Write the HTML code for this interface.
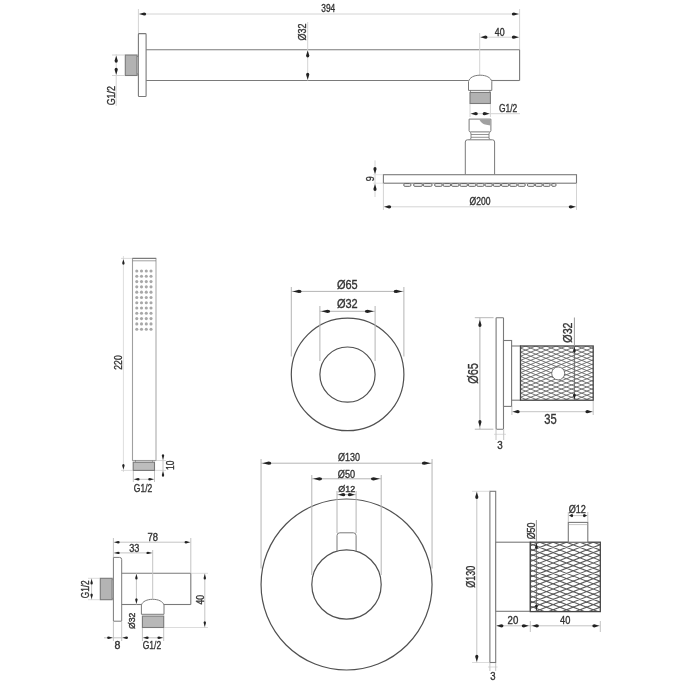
<!DOCTYPE html>
<html><head><meta charset="utf-8"><style>
html,body{margin:0;padding:0;background:#fff;}
svg{display:block;font-family:"Liberation Sans",sans-serif;will-change:transform;filter:blur(0.35px);}
text{stroke:#333;stroke-width:0.35px;}
</style></head><body>
<svg width="685" height="685" viewBox="0 0 685 685">

<rect width="685" height="685" fill="#fff"/>
<line x1="138.40" y1="14.00" x2="519.60" y2="14.00" stroke="#d4d4d4" stroke-width="1.0"/>
<path d="M139.20,14.00 L144.10,12.40 Q146.20,12.40 146.20,14.00 Q146.20,15.60 144.10,15.60 Z" fill="#222"/>
<path d="M518.80,14.00 L513.90,15.60 Q511.80,15.60 511.80,14.00 Q511.80,12.40 513.90,12.40 Z" fill="#222"/>
<line x1="138.40" y1="9.00" x2="138.40" y2="33.60" stroke="#d4d4d4" stroke-width="1.0"/>
<line x1="519.60" y1="9.00" x2="519.60" y2="49.60" stroke="#d4d4d4" stroke-width="1.0"/>
<text class="t0" x="321.29" y="11.67" font-size="11.21" textLength="13.96" lengthAdjust="spacingAndGlyphs" fill="#333">394</text>
<rect x="138.40" y="33.60" width="7.70" height="62.90" rx="0.8" fill="#fff" stroke="#7a7a7a" stroke-width="1.1"/>
<line x1="146.10" y1="49.70" x2="519.60" y2="49.70" stroke="#7a7a7a" stroke-width="1.1"/>
<line x1="146.10" y1="80.50" x2="468.50" y2="80.50" stroke="#7a7a7a" stroke-width="1.1"/>
<line x1="491.80" y1="80.50" x2="519.60" y2="80.50" stroke="#7a7a7a" stroke-width="1.1"/>
<line x1="519.60" y1="49.70" x2="519.60" y2="80.50" stroke="#7a7a7a" stroke-width="1.1"/>
<rect x="125.30" y="55.00" width="11.80" height="20.50" rx="0" fill="#b2b2b2" stroke="#7a7a7a" stroke-width="1.1"/>
<rect x="137.10" y="56.50" width="1.30" height="17.50" rx="0" fill="#d0d0d0" stroke="#7a7a7a" stroke-width="0.6"/>
<line x1="112.00" y1="55.00" x2="125.00" y2="55.00" stroke="#d4d4d4" stroke-width="1.0"/>
<line x1="112.00" y1="75.50" x2="125.00" y2="75.50" stroke="#d4d4d4" stroke-width="1.0"/>
<line x1="116.20" y1="54.30" x2="116.20" y2="106.00" stroke="#d4d4d4" stroke-width="1.0"/>
<path d="M116.20,55.80 L117.80,60.70 Q117.80,62.80 116.20,62.80 Q114.60,62.80 114.60,60.70 Z" fill="#222"/>
<path d="M116.20,74.70 L114.60,69.80 Q114.60,67.70 116.20,67.70 Q117.80,67.70 117.80,69.80 Z" fill="#222"/>
<text class="t1" transform="translate(114.67,105.33) rotate(-90)" x="0" y="0" font-size="11.12" textLength="19.24" lengthAdjust="spacingAndGlyphs" fill="#333">G1/2</text>
<line x1="307.70" y1="22.00" x2="307.70" y2="80.50" stroke="#d4d4d4" stroke-width="1.0"/>
<path d="M307.70,50.50 L309.30,55.40 Q309.30,57.50 307.70,57.50 Q306.10,57.50 306.10,55.40 Z" fill="#222"/>
<path d="M307.70,79.70 L306.10,74.80 Q306.10,72.70 307.70,72.70 Q309.30,72.70 309.30,74.80 Z" fill="#222"/>
<text class="t2" transform="translate(305.55,40.57) rotate(-90)" x="0" y="0" font-size="10.45" textLength="16.95" lengthAdjust="spacingAndGlyphs" fill="#333">Ø32</text>
<line x1="479.70" y1="37.20" x2="519.60" y2="37.20" stroke="#d4d4d4" stroke-width="1.0"/>
<path d="M480.50,37.20 L485.40,35.60 Q487.50,35.60 487.50,37.20 Q487.50,38.80 485.40,38.80 Z" fill="#222"/>
<path d="M518.80,37.20 L513.90,38.80 Q511.80,38.80 511.80,37.20 Q511.80,35.60 513.90,35.60 Z" fill="#222"/>
<line x1="479.70" y1="33.00" x2="479.70" y2="75.00" stroke="#d4d4d4" stroke-width="1.0"/>
<text class="t3" x="494.77" y="35.63" font-size="10.21" textLength="9.82" lengthAdjust="spacingAndGlyphs" fill="#333">40</text>
<path d="M468.5,90.4 L468.5,81.5 C469.5,77.5 474,75.2 480.1,75.2 C486.3,75.2 490.8,77.5 491.8,81.5 L491.8,90.4 Z" fill="#fff" stroke="#7a7a7a" stroke-width="1"/>
<rect x="470.50" y="90.40" width="19.40" height="2.00" rx="0" fill="#fff" stroke="#7a7a7a" stroke-width="0.8"/>
<rect x="470.00" y="92.40" width="20.40" height="11.10" rx="0" fill="#b2b2b2" stroke="#7a7a7a" stroke-width="1.1"/>
<line x1="470.00" y1="104.00" x2="470.00" y2="117.00" stroke="#d4d4d4" stroke-width="1.0"/>
<line x1="490.40" y1="104.00" x2="490.40" y2="117.00" stroke="#d4d4d4" stroke-width="1.0"/>
<line x1="470.00" y1="113.70" x2="520.00" y2="113.70" stroke="#d4d4d4" stroke-width="1.0"/>
<path d="M470.80,113.70 L475.70,112.10 Q477.80,112.10 477.80,113.70 Q477.80,115.30 475.70,115.30 Z" fill="#222"/>
<path d="M489.60,113.70 L484.70,115.30 Q482.60,115.30 482.60,113.70 Q482.60,112.10 484.70,112.10 Z" fill="#222"/>
<text class="t4" x="498.95" y="111.67" font-size="10.81" textLength="18.36" lengthAdjust="spacingAndGlyphs" fill="#333">G1/2</text>
<path d="M469.1,119.1 L490.9,119.1 L490.9,130.6 Q490.9,131.9 489.6,131.9 L470.4,131.9 Q469.1,131.9 469.1,130.6 Z" fill="#fff" stroke="#7a7a7a" stroke-width="1"/>
<path d="M479.2,119.6 Q482,124 485,124.6 L490.4,125.5 L490.4,119.6 Z" fill="#a0a0a0"/>
<path d="M469.8,131.9 Q471,132.6 471,134 L471,138 Q471,139.2 469.5,139.7 M490.3,131.9 Q489,132.6 489,134 L489,138 Q489,139.2 490.5,139.7" fill="none" stroke="#7a7a7a" stroke-width="0.9"/>
<line x1="471.00" y1="134.50" x2="489.00" y2="134.50" stroke="#7a7a7a" stroke-width="0.8"/>
<line x1="471.00" y1="137.30" x2="489.00" y2="137.30" stroke="#7a7a7a" stroke-width="0.8"/>
<path d="M465.3,174.7 L465.3,142 Q465.3,139.8 467.5,139.8 L492.5,139.8 Q494.6,139.8 494.6,142 L494.6,174.7" fill="#fff" stroke="#7a7a7a" stroke-width="1"/>
<rect x="383.40" y="174.70" width="193.10" height="8.50" rx="0" fill="#fff" stroke="#7a7a7a" stroke-width="1.1"/>
<rect x="403.70" y="183.5" width="7.30" height="2.9" rx="1.4" fill="#ececec" stroke="#505050" stroke-width="0.8"/>
<rect x="413.60" y="183.5" width="8.85" height="2.9" rx="1.4" fill="#ececec" stroke="#505050" stroke-width="0.8"/>
<rect x="423.25" y="183.5" width="8.85" height="2.9" rx="1.4" fill="#ececec" stroke="#505050" stroke-width="0.8"/>
<rect x="434.60" y="183.5" width="7.62" height="2.9" rx="1.4" fill="#ececec" stroke="#505050" stroke-width="0.8"/>
<rect x="443.02" y="183.5" width="7.62" height="2.9" rx="1.4" fill="#ececec" stroke="#505050" stroke-width="0.8"/>
<rect x="451.44" y="183.5" width="7.62" height="2.9" rx="1.4" fill="#ececec" stroke="#505050" stroke-width="0.8"/>
<rect x="459.86" y="183.5" width="7.62" height="2.9" rx="1.4" fill="#ececec" stroke="#505050" stroke-width="0.8"/>
<rect x="468.28" y="183.5" width="7.62" height="2.9" rx="1.4" fill="#ececec" stroke="#505050" stroke-width="0.8"/>
<rect x="476.70" y="183.5" width="7.43" height="2.9" rx="1.4" fill="#ececec" stroke="#505050" stroke-width="0.8"/>
<rect x="484.93" y="183.5" width="7.43" height="2.9" rx="1.4" fill="#ececec" stroke="#505050" stroke-width="0.8"/>
<rect x="493.17" y="183.5" width="7.43" height="2.9" rx="1.4" fill="#ececec" stroke="#505050" stroke-width="0.8"/>
<rect x="501.40" y="183.5" width="7.43" height="2.9" rx="1.4" fill="#ececec" stroke="#505050" stroke-width="0.8"/>
<rect x="509.63" y="183.5" width="7.43" height="2.9" rx="1.4" fill="#ececec" stroke="#505050" stroke-width="0.8"/>
<rect x="517.87" y="183.5" width="7.43" height="2.9" rx="1.4" fill="#ececec" stroke="#505050" stroke-width="0.8"/>
<rect x="527.40" y="183.5" width="7.07" height="2.9" rx="1.4" fill="#ececec" stroke="#505050" stroke-width="0.8"/>
<rect x="535.27" y="183.5" width="7.07" height="2.9" rx="1.4" fill="#ececec" stroke="#505050" stroke-width="0.8"/>
<rect x="543.13" y="183.5" width="7.07" height="2.9" rx="1.4" fill="#ececec" stroke="#505050" stroke-width="0.8"/>
<rect x="551.60" y="183.5" width="4.50" height="2.9" rx="1.4" fill="#ececec" stroke="#505050" stroke-width="0.8"/>
<line x1="375.00" y1="160.40" x2="375.00" y2="197.00" stroke="#d4d4d4" stroke-width="1.0"/>
<path d="M375.00,173.90 L373.40,169.00 Q373.40,166.90 375.00,166.90 Q376.60,166.90 376.60,169.00 Z" fill="#222"/>
<path d="M375.00,184.00 L376.60,188.90 Q376.60,191.00 375.00,191.00 Q373.40,191.00 373.40,188.90 Z" fill="#222"/>
<line x1="373.00" y1="174.70" x2="383.00" y2="174.70" stroke="#d4d4d4" stroke-width="0.6"/>
<line x1="373.00" y1="183.20" x2="383.00" y2="183.20" stroke="#d4d4d4" stroke-width="0.6"/>
<text class="t5" transform="translate(373.52,181.20) rotate(-90)" x="0" y="0" font-size="10.91" textLength="4.98" lengthAdjust="spacingAndGlyphs" fill="#333">9</text>
<line x1="383.40" y1="183.50" x2="383.40" y2="210.00" stroke="#d4d4d4" stroke-width="1.0"/>
<line x1="576.50" y1="183.50" x2="576.50" y2="210.00" stroke="#d4d4d4" stroke-width="1.0"/>
<line x1="383.40" y1="206.80" x2="576.50" y2="206.80" stroke="#d4d4d4" stroke-width="1.0"/>
<path d="M384.20,206.80 L389.10,205.20 Q391.20,205.20 391.20,206.80 Q391.20,208.40 389.10,208.40 Z" fill="#222"/>
<path d="M575.70,206.80 L570.80,208.40 Q568.70,208.40 568.70,206.80 Q568.70,205.20 570.80,205.20 Z" fill="#222"/>
<text class="t6" x="469.49" y="204.67" font-size="10.03" textLength="20.94" lengthAdjust="spacingAndGlyphs" fill="#333">Ø200</text>
<rect x="132.50" y="258.40" width="23.50" height="202.10" rx="0" fill="#fff" stroke="#a0a0a0" stroke-width="1.1"/>
<line x1="156.00" y1="259.00" x2="156.00" y2="460.00" stroke="#d6d6d6" stroke-width="1.2"/>
<line x1="132.50" y1="258.40" x2="156.00" y2="258.40" stroke="#7a7a7a" stroke-width="1.1"/>
<line x1="132.50" y1="260.80" x2="156.00" y2="260.80" stroke="#7a7a7a" stroke-width="0.7"/>
<circle cx="136.80" cy="271.00" r="1.55" fill="#a8a8a8"/>
<circle cx="141.50" cy="271.00" r="1.55" fill="#a8a8a8"/>
<circle cx="146.30" cy="271.00" r="1.55" fill="#a8a8a8"/>
<circle cx="151.00" cy="271.00" r="1.55" fill="#a8a8a8"/>
<circle cx="136.80" cy="276.29" r="1.55" fill="#a8a8a8"/>
<circle cx="141.50" cy="276.29" r="1.55" fill="#a8a8a8"/>
<circle cx="146.30" cy="276.29" r="1.55" fill="#a8a8a8"/>
<circle cx="151.00" cy="276.29" r="1.55" fill="#a8a8a8"/>
<circle cx="136.80" cy="281.58" r="1.55" fill="#a8a8a8"/>
<circle cx="141.50" cy="281.58" r="1.55" fill="#a8a8a8"/>
<circle cx="146.30" cy="281.58" r="1.55" fill="#a8a8a8"/>
<circle cx="151.00" cy="281.58" r="1.55" fill="#a8a8a8"/>
<circle cx="136.80" cy="286.87" r="1.55" fill="#a8a8a8"/>
<circle cx="141.50" cy="286.87" r="1.55" fill="#a8a8a8"/>
<circle cx="146.30" cy="286.87" r="1.55" fill="#a8a8a8"/>
<circle cx="151.00" cy="286.87" r="1.55" fill="#a8a8a8"/>
<circle cx="136.80" cy="292.16" r="1.55" fill="#a8a8a8"/>
<circle cx="141.50" cy="292.16" r="1.55" fill="#a8a8a8"/>
<circle cx="146.30" cy="292.16" r="1.55" fill="#a8a8a8"/>
<circle cx="151.00" cy="292.16" r="1.55" fill="#a8a8a8"/>
<circle cx="136.80" cy="297.45" r="1.55" fill="#a8a8a8"/>
<circle cx="141.50" cy="297.45" r="1.55" fill="#a8a8a8"/>
<circle cx="146.30" cy="297.45" r="1.55" fill="#a8a8a8"/>
<circle cx="151.00" cy="297.45" r="1.55" fill="#a8a8a8"/>
<circle cx="136.80" cy="302.74" r="1.55" fill="#a8a8a8"/>
<circle cx="141.50" cy="302.74" r="1.55" fill="#a8a8a8"/>
<circle cx="146.30" cy="302.74" r="1.55" fill="#a8a8a8"/>
<circle cx="151.00" cy="302.74" r="1.55" fill="#a8a8a8"/>
<circle cx="136.80" cy="308.03" r="1.55" fill="#a8a8a8"/>
<circle cx="141.50" cy="308.03" r="1.55" fill="#a8a8a8"/>
<circle cx="146.30" cy="308.03" r="1.55" fill="#a8a8a8"/>
<circle cx="151.00" cy="308.03" r="1.55" fill="#a8a8a8"/>
<circle cx="136.80" cy="313.32" r="1.55" fill="#a8a8a8"/>
<circle cx="141.50" cy="313.32" r="1.55" fill="#a8a8a8"/>
<circle cx="146.30" cy="313.32" r="1.55" fill="#a8a8a8"/>
<circle cx="151.00" cy="313.32" r="1.55" fill="#a8a8a8"/>
<circle cx="136.80" cy="318.61" r="1.55" fill="#a8a8a8"/>
<circle cx="141.50" cy="318.61" r="1.55" fill="#a8a8a8"/>
<circle cx="146.30" cy="318.61" r="1.55" fill="#a8a8a8"/>
<circle cx="151.00" cy="318.61" r="1.55" fill="#a8a8a8"/>
<circle cx="136.80" cy="323.90" r="1.55" fill="#a8a8a8"/>
<circle cx="141.50" cy="323.90" r="1.55" fill="#a8a8a8"/>
<circle cx="146.30" cy="323.90" r="1.55" fill="#a8a8a8"/>
<circle cx="151.00" cy="323.90" r="1.55" fill="#a8a8a8"/>
<circle cx="136.80" cy="329.19" r="1.55" fill="#a8a8a8"/>
<circle cx="141.50" cy="329.19" r="1.55" fill="#a8a8a8"/>
<circle cx="146.30" cy="329.19" r="1.55" fill="#a8a8a8"/>
<circle cx="151.00" cy="329.19" r="1.55" fill="#a8a8a8"/>
<rect x="135.60" y="460.50" width="17.00" height="1.70" rx="0" fill="#fff" stroke="#7a7a7a" stroke-width="0.6"/>
<rect x="133.20" y="462.20" width="21.30" height="8.20" rx="0" fill="#bdbdbd" stroke="#777" stroke-width="1.1"/>
<line x1="123.40" y1="256.00" x2="123.40" y2="472.00" stroke="#dedede" stroke-width="1.0"/>
<path d="M123.40,259.20 L124.60,263.05 Q124.60,264.70 123.40,264.70 Q122.20,264.70 122.20,263.05 Z" fill="#222"/>
<path d="M123.40,469.60 L122.20,465.75 Q122.20,464.10 123.40,464.10 Q124.60,464.10 124.60,465.75 Z" fill="#222"/>
<line x1="121.00" y1="258.40" x2="132.00" y2="258.40" stroke="#c4c4c4" stroke-width="0.6"/>
<line x1="121.00" y1="470.40" x2="133.00" y2="470.40" stroke="#c4c4c4" stroke-width="0.6"/>
<text class="t7" transform="translate(121.71,369.70) rotate(-90)" x="0" y="0" font-size="11.52" textLength="14.42" lengthAdjust="spacingAndGlyphs" fill="#333">220</text>
<line x1="163.00" y1="454.00" x2="163.00" y2="477.00" stroke="#c4c4c4" stroke-width="1.0"/>
<path d="M163.00,459.70 L161.80,455.85 Q161.80,454.20 163.00,454.20 Q164.20,454.20 164.20,455.85 Z" fill="#222"/>
<path d="M163.00,471.20 L164.20,475.05 Q164.20,476.70 163.00,476.70 Q161.80,476.70 161.80,475.05 Z" fill="#222"/>
<line x1="156.00" y1="460.50" x2="166.00" y2="460.50" stroke="#c4c4c4" stroke-width="0.6"/>
<line x1="155.00" y1="470.40" x2="166.00" y2="470.40" stroke="#c4c4c4" stroke-width="0.6"/>
<text class="t8" transform="translate(173.52,469.99) rotate(-90)" x="0" y="0" font-size="10.38" textLength="9.41" lengthAdjust="spacingAndGlyphs" fill="#333">10</text>
<line x1="133.30" y1="471.00" x2="133.30" y2="482.00" stroke="#c4c4c4" stroke-width="1.0"/>
<line x1="154.50" y1="471.00" x2="154.50" y2="482.00" stroke="#c4c4c4" stroke-width="1.0"/>
<line x1="133.30" y1="479.30" x2="154.50" y2="479.30" stroke="#c4c4c4" stroke-width="1.0"/>
<path d="M134.10,479.30 L137.95,478.10 Q139.60,478.10 139.60,479.30 Q139.60,480.50 137.95,480.50 Z" fill="#222"/>
<path d="M153.70,479.30 L149.85,480.50 Q148.20,480.50 148.20,479.30 Q148.20,478.10 149.85,478.10 Z" fill="#222"/>
<text class="t9" x="133.81" y="491.51" font-size="11.29" textLength="18.45" lengthAdjust="spacingAndGlyphs" fill="#333">G1/2</text>
<circle cx="347.60" cy="374.40" r="56.30" fill="none" stroke="#505050" stroke-width="1.2"/>
<circle cx="347.50" cy="374.60" r="27.60" fill="none" stroke="#505050" stroke-width="1.2"/>
<line x1="291.30" y1="287.00" x2="291.30" y2="356.50" stroke="#b4b4b4" stroke-width="1.0"/>
<line x1="403.90" y1="287.00" x2="403.90" y2="356.50" stroke="#b4b4b4" stroke-width="1.0"/>
<line x1="291.30" y1="291.40" x2="403.90" y2="291.40" stroke="#b4b4b4" stroke-width="1.0"/>
<path d="M292.60,291.40 L298.90,289.80 Q301.60,289.80 301.60,291.40 Q301.60,293.00 298.90,293.00 Z" fill="#222"/>
<path d="M402.60,291.40 L396.30,293.00 Q393.60,293.00 393.60,291.40 Q393.60,289.80 396.30,289.80 Z" fill="#222"/>
<text class="t10" x="336.93" y="288.56" font-size="12.23" textLength="20.75" lengthAdjust="spacingAndGlyphs" fill="#333">Ø65</text>
<line x1="319.90" y1="306.00" x2="319.90" y2="361.00" stroke="#b4b4b4" stroke-width="1.0"/>
<line x1="375.10" y1="306.00" x2="375.10" y2="361.00" stroke="#b4b4b4" stroke-width="1.0"/>
<line x1="319.90" y1="311.30" x2="375.10" y2="311.30" stroke="#b4b4b4" stroke-width="1.0"/>
<path d="M321.20,311.30 L327.50,309.70 Q330.20,309.70 330.20,311.30 Q330.20,312.90 327.50,312.90 Z" fill="#222"/>
<path d="M373.80,311.30 L367.50,312.90 Q364.80,312.90 364.80,311.30 Q364.80,309.70 367.50,309.70 Z" fill="#222"/>
<text class="t11" x="336.93" y="307.72" font-size="11.97" textLength="20.78" lengthAdjust="spacingAndGlyphs" fill="#333">Ø32</text>
<circle cx="346.55" cy="584.50" r="85.50" fill="none" stroke="#505050" stroke-width="1.2"/>
<circle cx="346.50" cy="584.50" r="34.70" fill="none" stroke="#505050" stroke-width="1.2"/>
<path d="M337,551.5 L337,535.6 Q337,532.8 339.8,532.8 L353.3,532.8 Q356.1,532.8 356.1,535.6 L356.1,551.5" fill="none" stroke="#7a7a7a" stroke-width="1"/>
<line x1="261.05" y1="459.00" x2="261.05" y2="568.50" stroke="#b4b4b4" stroke-width="1.0"/>
<line x1="432.05" y1="459.00" x2="432.05" y2="568.50" stroke="#b4b4b4" stroke-width="1.0"/>
<line x1="261.05" y1="463.20" x2="432.05" y2="463.20" stroke="#b4b4b4" stroke-width="1.0"/>
<path d="M262.30,463.20 L268.60,461.60 Q271.30,461.60 271.30,463.20 Q271.30,464.80 268.60,464.80 Z" fill="#222"/>
<path d="M430.80,463.20 L424.50,464.80 Q421.80,464.80 421.80,463.20 Q421.80,461.60 424.50,461.60 Z" fill="#222"/>
<text class="t12" x="338.05" y="460.72" font-size="11.65" textLength="21.99" lengthAdjust="spacingAndGlyphs" fill="#333">Ø130</text>
<line x1="311.80" y1="475.00" x2="311.80" y2="575.00" stroke="#b4b4b4" stroke-width="1.0"/>
<line x1="381.20" y1="475.00" x2="381.20" y2="575.00" stroke="#b4b4b4" stroke-width="1.0"/>
<line x1="311.80" y1="478.80" x2="381.20" y2="478.80" stroke="#b4b4b4" stroke-width="1.0"/>
<path d="M313.10,478.80 L319.40,477.20 Q322.10,477.20 322.10,478.80 Q322.10,480.40 319.40,480.40 Z" fill="#222"/>
<path d="M379.90,478.80 L373.60,480.40 Q370.90,480.40 370.90,478.80 Q370.90,477.20 373.60,477.20 Z" fill="#222"/>
<text class="t13" x="337.79" y="477.70" font-size="10.56" textLength="17.27" lengthAdjust="spacingAndGlyphs" fill="#333">Ø50</text>
<line x1="337.00" y1="491.00" x2="337.00" y2="533.00" stroke="#b4b4b4" stroke-width="1.0"/>
<line x1="356.10" y1="491.00" x2="356.10" y2="533.00" stroke="#b4b4b4" stroke-width="1.0"/>
<line x1="337.00" y1="494.70" x2="356.10" y2="494.70" stroke="#b4b4b4" stroke-width="1.0"/>
<path d="M338.30,494.70 L343.20,493.10 Q345.30,493.10 345.30,494.70 Q345.30,496.30 343.20,496.30 Z" fill="#222"/>
<path d="M354.80,494.70 L349.90,496.30 Q347.80,496.30 347.80,494.70 Q347.80,493.10 349.90,493.10 Z" fill="#222"/>
<text class="t14" x="338.24" y="491.56" font-size="8.37" textLength="16.94" lengthAdjust="spacingAndGlyphs" fill="#333">Ø12</text>
<rect x="496.10" y="317.70" width="7.40" height="111.50" rx="0.6" fill="#fff" stroke="#7a7a7a" stroke-width="1.1"/>
<rect x="503.50" y="340.50" width="8.10" height="65.90" rx="0" fill="#fff" stroke="#7a7a7a" stroke-width="1.1"/>
<rect x="511.60" y="346.00" width="8.90" height="54.20" rx="0" fill="#fff" stroke="#7a7a7a" stroke-width="1.1"/>
<clipPath id="kc1"><rect x="520.50" y="346.00" width="72.70" height="54.20"/></clipPath>
<rect x="520.50" y="346.00" width="72.70" height="54.20" fill="#fff"/>
<path clip-path="url(#kc1)" d="M519.50,310.75L594.20,340.77M519.50,311.55L594.20,281.53M519.50,314.85L594.20,344.87M519.50,315.65L594.20,285.63M519.50,318.95L594.20,348.97M519.50,319.75L594.20,289.73M519.50,323.05L594.20,353.07M519.50,323.85L594.20,293.83M519.50,327.15L594.20,357.17M519.50,327.95L594.20,297.93M519.50,331.25L594.20,361.27M519.50,332.05L594.20,302.03M519.50,335.35L594.20,365.37M519.50,336.15L594.20,306.13M519.50,339.45L594.20,369.47M519.50,340.25L594.20,310.23M519.50,343.55L594.20,373.57M519.50,344.35L594.20,314.33M519.50,347.65L594.20,377.67M519.50,348.45L594.20,318.43M519.50,351.75L594.20,381.77M519.50,352.55L594.20,322.53M519.50,355.85L594.20,385.87M519.50,356.65L594.20,326.63M519.50,359.95L594.20,389.97M519.50,360.75L594.20,330.73M519.50,364.05L594.20,394.07M519.50,364.85L594.20,334.83M519.50,368.15L594.20,398.17M519.50,368.95L594.20,338.93M519.50,372.25L594.20,402.27M519.50,373.05L594.20,343.03M519.50,376.35L594.20,406.37M519.50,377.15L594.20,347.13M519.50,380.45L594.20,410.47M519.50,381.25L594.20,351.23M519.50,384.55L594.20,414.57M519.50,385.35L594.20,355.33M519.50,388.65L594.20,418.67M519.50,389.45L594.20,359.43M519.50,392.75L594.20,422.77M519.50,393.55L594.20,363.53M519.50,396.85L594.20,426.87M519.50,397.65L594.20,367.63M519.50,400.95L594.20,430.97M519.50,401.75L594.20,371.73M519.50,405.05L594.20,435.07M519.50,405.85L594.20,375.83M519.50,409.15L594.20,439.17M519.50,409.95L594.20,379.93M519.50,413.25L594.20,443.27M519.50,414.05L594.20,384.03M519.50,417.35L594.20,447.37M519.50,418.15L594.20,388.13M519.50,421.45L594.20,451.47M519.50,422.25L594.20,392.23M519.50,425.55L594.20,455.57M519.50,426.35L594.20,396.33M519.50,429.65L594.20,459.67M519.50,430.45L594.20,400.43M519.50,433.75L594.20,463.77M519.50,434.55L594.20,404.53M519.50,437.85L594.20,467.87M519.50,438.65L594.20,408.63M519.50,441.95L594.20,471.97M519.50,442.75L594.20,412.73M519.50,446.05L594.20,476.07M519.50,446.85L594.20,416.83" stroke="#666" stroke-width="0.9" fill="none"/>
<rect x="520.50" y="346.00" width="72.70" height="54.20" rx="0" fill="none" stroke="#444" stroke-width="1.3"/>
<circle cx="558.20" cy="373.40" r="6.50" fill="#fff" stroke="#555" stroke-width="0.8"/>
<line x1="474.80" y1="317.70" x2="493.60" y2="317.70" stroke="#b8b8b8" stroke-width="1.0"/>
<line x1="474.80" y1="429.20" x2="493.40" y2="429.20" stroke="#b8b8b8" stroke-width="1.0"/>
<line x1="479.90" y1="317.70" x2="479.90" y2="429.20" stroke="#b0b0b0" stroke-width="1.0"/>
<path d="M479.90,320.00 L481.50,324.90 Q481.50,327.00 479.90,327.00 Q478.30,327.00 478.30,324.90 Z" fill="#222"/>
<path d="M479.90,426.90 L478.30,422.00 Q478.30,419.90 479.90,419.90 Q481.50,419.90 481.50,422.00 Z" fill="#222"/>
<text class="t15" transform="translate(477.53,383.87) rotate(-90)" x="0" y="0" font-size="15.25" textLength="20.69" lengthAdjust="spacingAndGlyphs" fill="#333">Ø65</text>
<line x1="574.40" y1="317.50" x2="574.40" y2="346.00" stroke="#9a9a9a" stroke-width="1.0"/>
<line x1="574.40" y1="346.00" x2="574.40" y2="400.20" stroke="#666" stroke-width="0.9"/>
<path d="M574.40,346.80 L575.70,351.00 Q575.70,352.80 574.40,352.80 Q573.10,352.80 573.10,351.00 Z" fill="#222"/>
<path d="M574.40,399.40 L573.10,395.20 Q573.10,393.40 574.40,393.40 Q575.70,393.40 575.70,395.20 Z" fill="#222"/>
<text class="t16" transform="translate(571.64,342.70) rotate(-90)" x="0" y="0" font-size="12.83" textLength="20.27" lengthAdjust="spacingAndGlyphs" fill="#333">Ø32</text>
<line x1="593.20" y1="401.00" x2="593.20" y2="415.00" stroke="#c4c4c4" stroke-width="1.0"/>
<line x1="511.90" y1="406.50" x2="511.90" y2="415.00" stroke="#c4c4c4" stroke-width="1.0"/>
<line x1="511.90" y1="411.70" x2="593.20" y2="411.70" stroke="#c4c4c4" stroke-width="1.0"/>
<path d="M512.70,411.70 L517.60,410.10 Q519.70,410.10 519.70,411.70 Q519.70,413.30 517.60,413.30 Z" fill="#222"/>
<path d="M592.40,411.70 L587.50,413.30 Q585.40,413.30 585.40,411.70 Q585.40,410.10 587.50,410.10 Z" fill="#222"/>
<text class="t17" x="544.19" y="423.54" font-size="13.73" textLength="12.42" lengthAdjust="spacingAndGlyphs" fill="#333">35</text>
<line x1="496.00" y1="429.00" x2="496.00" y2="440.00" stroke="#c4c4c4" stroke-width="1.0"/>
<line x1="503.70" y1="429.00" x2="503.70" y2="440.00" stroke="#c4c4c4" stroke-width="1.0"/>
<line x1="494.00" y1="434.30" x2="506.00" y2="434.30" stroke="#c4c4c4" stroke-width="0.6"/>
<text class="t18" x="497.18" y="448.67" font-size="10.75" textLength="5.47" lengthAdjust="spacingAndGlyphs" fill="#333">3</text>
<rect x="489.90" y="491.30" width="5.80" height="171.20" rx="0" fill="#fff" stroke="#7a7a7a" stroke-width="1.1"/>
<rect x="495.70" y="542.20" width="34.60" height="69.10" rx="0" fill="#fff" stroke="#7a7a7a" stroke-width="1.1"/>
<clipPath id="kc2"><rect x="530.30" y="542.20" width="70.00" height="69.40"/></clipPath>
<rect x="530.30" y="542.20" width="70.00" height="69.40" fill="#fff"/>
<path clip-path="url(#kc2)" d="M529.30,506.96L601.30,534.90M529.30,509.84L601.30,481.90M529.30,512.16L601.30,540.10M529.30,515.04L601.30,487.10M529.30,517.36L601.30,545.30M529.30,520.24L601.30,492.30M529.30,522.56L601.30,550.50M529.30,525.44L601.30,497.50M529.30,527.76L601.30,555.70M529.30,530.64L601.30,502.70M529.30,532.96L601.30,560.90M529.30,535.84L601.30,507.90M529.30,538.16L601.30,566.10M529.30,541.04L601.30,513.10M529.30,543.36L601.30,571.30M529.30,546.24L601.30,518.30M529.30,548.56L601.30,576.50M529.30,551.44L601.30,523.50M529.30,553.76L601.30,581.70M529.30,556.64L601.30,528.70M529.30,558.96L601.30,586.90M529.30,561.84L601.30,533.90M529.30,564.16L601.30,592.10M529.30,567.04L601.30,539.10M529.30,569.36L601.30,597.30M529.30,572.24L601.30,544.30M529.30,574.56L601.30,602.50M529.30,577.44L601.30,549.50M529.30,579.76L601.30,607.70M529.30,582.64L601.30,554.70M529.30,584.96L601.30,612.90M529.30,587.84L601.30,559.90M529.30,590.16L601.30,618.10M529.30,593.04L601.30,565.10M529.30,595.36L601.30,623.30M529.30,598.24L601.30,570.30M529.30,600.56L601.30,628.50M529.30,603.44L601.30,575.50M529.30,605.76L601.30,633.70M529.30,608.64L601.30,580.70M529.30,610.96L601.30,638.90M529.30,613.84L601.30,585.90M529.30,616.16L601.30,644.10M529.30,619.04L601.30,591.10M529.30,621.36L601.30,649.30M529.30,624.24L601.30,596.30M529.30,626.56L601.30,654.50M529.30,629.44L601.30,601.50M529.30,631.76L601.30,659.70M529.30,634.64L601.30,606.70M529.30,636.96L601.30,664.90M529.30,639.84L601.30,611.90M529.30,642.16L601.30,670.10M529.30,645.04L601.30,617.10M529.30,647.36L601.30,675.30M529.30,650.24L601.30,622.30M529.30,652.56L601.30,680.50M529.30,655.44L601.30,627.50M529.30,657.76L601.30,685.70M529.30,660.64L601.30,632.70" stroke="#5c5c5c" stroke-width="1.1" fill="none"/>
<rect x="530.30" y="542.20" width="70.00" height="69.40" rx="0" fill="none" stroke="#444" stroke-width="1.3"/>
<rect x="568.30" y="522.40" width="19.50" height="19.80" rx="0" fill="#fff" stroke="#7a7a7a" stroke-width="1.1"/>
<line x1="569.00" y1="524.60" x2="587.10" y2="524.60" stroke="#c8c8c8" stroke-width="1.0"/>
<line x1="472.00" y1="491.30" x2="490.00" y2="491.30" stroke="#c4c4c4" stroke-width="0.6"/>
<line x1="472.00" y1="662.50" x2="490.00" y2="662.50" stroke="#c4c4c4" stroke-width="0.6"/>
<line x1="476.80" y1="491.30" x2="476.80" y2="662.50" stroke="#c4c4c4" stroke-width="1.0"/>
<path d="M476.80,492.10 L478.40,497.00 Q478.40,499.10 476.80,499.10 Q475.20,499.10 475.20,497.00 Z" fill="#222"/>
<path d="M476.80,661.70 L475.20,656.80 Q475.20,654.70 476.80,654.70 Q478.40,654.70 478.40,656.80 Z" fill="#222"/>
<text class="t19" transform="translate(474.52,587.79) rotate(-90)" x="0" y="0" font-size="11.96" textLength="22.04" lengthAdjust="spacingAndGlyphs" fill="#333">Ø130</text>
<line x1="536.40" y1="520.00" x2="536.40" y2="542.20" stroke="#9a9a9a" stroke-width="1.0"/>
<line x1="536.40" y1="542.20" x2="536.40" y2="611.30" stroke="#666" stroke-width="0.9"/>
<path d="M536.40,543.00 L537.70,547.20 Q537.70,549.00 536.40,549.00 Q535.10,549.00 535.10,547.20 Z" fill="#222"/>
<path d="M536.40,610.50 L535.10,606.30 Q535.10,604.50 536.40,604.50 Q537.70,604.50 537.70,606.30 Z" fill="#222"/>
<text class="t20" transform="translate(534.61,539.33) rotate(-90)" x="0" y="0" font-size="10.18" textLength="16.85" lengthAdjust="spacingAndGlyphs" fill="#333">Ø50</text>
<line x1="568.30" y1="512.00" x2="568.30" y2="522.00" stroke="#c4c4c4" stroke-width="1.0"/>
<line x1="587.80" y1="512.00" x2="587.80" y2="522.00" stroke="#c4c4c4" stroke-width="1.0"/>
<line x1="568.30" y1="515.60" x2="587.80" y2="515.60" stroke="#c4c4c4" stroke-width="1.0"/>
<path d="M569.10,515.60 L571.90,514.00 Q573.10,514.00 573.10,515.60 Q573.10,517.20 571.90,517.20 Z" fill="#222"/>
<path d="M587.00,515.60 L584.20,517.20 Q583.00,517.20 583.00,515.60 Q583.00,514.00 584.20,514.00 Z" fill="#222"/>
<text class="t21" x="568.70" y="512.56" font-size="10.41" textLength="17.26" lengthAdjust="spacingAndGlyphs" fill="#333">Ø12</text>
<line x1="530.30" y1="621.00" x2="530.30" y2="632.00" stroke="#c4c4c4" stroke-width="1.0"/>
<line x1="600.30" y1="621.00" x2="600.30" y2="632.00" stroke="#c4c4c4" stroke-width="1.0"/>
<line x1="495.70" y1="625.80" x2="600.30" y2="625.80" stroke="#c4c4c4" stroke-width="1.0"/>
<path d="M496.50,625.80 L501.40,624.20 Q503.50,624.20 503.50,625.80 Q503.50,627.40 501.40,627.40 Z" fill="#222"/>
<path d="M528.70,625.80 L523.80,627.40 Q521.70,627.40 521.70,625.80 Q521.70,624.20 523.80,624.20 Z" fill="#222"/>
<path d="M531.90,625.80 L536.80,624.20 Q538.90,624.20 538.90,625.80 Q538.90,627.40 536.80,627.40 Z" fill="#222"/>
<path d="M599.30,625.80 L594.40,627.40 Q592.30,627.40 592.30,625.80 Q592.30,624.20 594.40,624.20 Z" fill="#222"/>
<text class="t22" x="507.56" y="623.68" font-size="10.10" textLength="10.72" lengthAdjust="spacingAndGlyphs" fill="#333">20</text>
<text class="t23" x="560.04" y="623.67" font-size="10.52" textLength="10.31" lengthAdjust="spacingAndGlyphs" fill="#333">40</text>
<line x1="489.90" y1="663.00" x2="489.90" y2="671.00" stroke="#c4c4c4" stroke-width="1.0"/>
<line x1="495.70" y1="663.00" x2="495.70" y2="671.00" stroke="#c4c4c4" stroke-width="1.0"/>
<line x1="488.00" y1="667.00" x2="497.50" y2="667.00" stroke="#c4c4c4" stroke-width="0.6"/>
<text class="t24" x="490.20" y="679.63" font-size="10.21" textLength="5.31" lengthAdjust="spacingAndGlyphs" fill="#333">3</text>
<path d="M113.4,621.2 L113.4,557.4 L119.5,557.4 Q121.7,557.4 121.7,559.6 L121.7,621.2 Z" fill="#fff" stroke="#7a7a7a" stroke-width="1"/>
<line x1="121.70" y1="573.30" x2="190.80" y2="573.30" stroke="#7a7a7a" stroke-width="1.1"/>
<line x1="190.80" y1="573.30" x2="190.80" y2="604.50" stroke="#7a7a7a" stroke-width="1.1"/>
<line x1="121.70" y1="604.50" x2="141.40" y2="604.50" stroke="#7a7a7a" stroke-width="1.1"/>
<line x1="164.00" y1="604.50" x2="190.80" y2="604.50" stroke="#7a7a7a" stroke-width="1.1"/>
<rect x="100.30" y="578.30" width="11.90" height="21.40" rx="0" fill="#b4b4b4" stroke="#7a7a7a" stroke-width="1.1"/>
<rect x="112.20" y="579.80" width="1.20" height="18.40" rx="0" fill="#d0d0d0" stroke="#7a7a7a" stroke-width="0.6"/>
<path d="M141.4,614.3 L141.4,605 C142.4,601.5 147,599.3 152.7,599.3 C158.4,599.3 163,601.5 164,605 L164,614.3 Z" fill="#fff" stroke="#7a7a7a" stroke-width="1"/>
<rect x="142.40" y="616.10" width="21.30" height="11.40" rx="0" fill="#b8b8b8" stroke="#7a7a7a" stroke-width="1.1"/>
<line x1="113.40" y1="538.00" x2="113.40" y2="557.00" stroke="#c4c4c4" stroke-width="1.0"/>
<line x1="190.80" y1="538.00" x2="190.80" y2="573.00" stroke="#c4c4c4" stroke-width="1.0"/>
<line x1="113.40" y1="542.20" x2="190.80" y2="542.20" stroke="#c4c4c4" stroke-width="1.0"/>
<path d="M114.20,542.20 L118.05,541.00 Q119.70,541.00 119.70,542.20 Q119.70,543.40 118.05,543.40 Z" fill="#222"/>
<path d="M190.00,542.20 L186.15,543.40 Q184.50,543.40 184.50,542.20 Q184.50,541.00 186.15,541.00 Z" fill="#222"/>
<text class="t25" x="147.52" y="540.52" font-size="10.80" textLength="10.48" lengthAdjust="spacingAndGlyphs" fill="#333">78</text>
<line x1="152.70" y1="550.00" x2="152.70" y2="599.30" stroke="#c4c4c4" stroke-width="1.0"/>
<line x1="113.40" y1="552.90" x2="152.70" y2="552.90" stroke="#c4c4c4" stroke-width="1.0"/>
<path d="M114.20,552.90 L118.05,551.70 Q119.70,551.70 119.70,552.90 Q119.70,554.10 118.05,554.10 Z" fill="#222"/>
<path d="M151.90,552.90 L148.05,554.10 Q146.40,554.10 146.40,552.90 Q146.40,551.70 148.05,551.70 Z" fill="#222"/>
<text class="t26" x="129.29" y="551.53" font-size="10.10" textLength="10.14" lengthAdjust="spacingAndGlyphs" fill="#333">33</text>
<line x1="191.00" y1="573.30" x2="208.00" y2="573.30" stroke="#c4c4c4" stroke-width="0.6"/>
<line x1="164.00" y1="627.50" x2="208.00" y2="627.50" stroke="#c4c4c4" stroke-width="0.6"/>
<line x1="204.80" y1="573.30" x2="204.80" y2="627.50" stroke="#c4c4c4" stroke-width="1.0"/>
<path d="M204.80,574.10 L206.00,577.95 Q206.00,579.60 204.80,579.60 Q203.60,579.60 203.60,577.95 Z" fill="#222"/>
<path d="M204.80,626.70 L203.60,622.85 Q203.60,621.20 204.80,621.20 Q206.00,621.20 206.00,622.85 Z" fill="#222"/>
<text class="t27" transform="translate(203.62,604.54) rotate(-90)" x="0" y="0" font-size="10.38" textLength="9.60" lengthAdjust="spacingAndGlyphs" fill="#333">40</text>
<line x1="88.00" y1="578.30" x2="100.00" y2="578.30" stroke="#c4c4c4" stroke-width="0.6"/>
<line x1="88.00" y1="599.70" x2="100.00" y2="599.70" stroke="#c4c4c4" stroke-width="0.6"/>
<line x1="91.60" y1="578.30" x2="91.60" y2="599.70" stroke="#c4c4c4" stroke-width="1.0"/>
<path d="M91.60,579.10 L92.80,582.95 Q92.80,584.60 91.60,584.60 Q90.40,584.60 90.40,582.95 Z" fill="#222"/>
<path d="M91.60,598.90 L90.40,595.05 Q90.40,593.40 91.60,593.40 Q92.80,593.40 92.80,595.05 Z" fill="#222"/>
<text class="t28" transform="translate(88.53,598.34) rotate(-90)" x="0" y="0" font-size="10.22" textLength="18.08" lengthAdjust="spacingAndGlyphs" fill="#333">G1/2</text>
<line x1="136.40" y1="573.30" x2="136.40" y2="604.50" stroke="#c4c4c4" stroke-width="1.0"/>
<path d="M136.40,574.10 L137.60,577.95 Q137.60,579.60 136.40,579.60 Q135.20,579.60 135.20,577.95 Z" fill="#222"/>
<path d="M136.40,603.70 L135.20,599.85 Q135.20,598.20 136.40,598.20 Q137.60,598.20 137.60,599.85 Z" fill="#222"/>
<text class="t29" transform="translate(134.56,629.10) rotate(-90)" x="0" y="0" font-size="8.25" textLength="16.47" lengthAdjust="spacingAndGlyphs" fill="#333">Ø32</text>
<line x1="113.40" y1="622.00" x2="113.40" y2="641.00" stroke="#c4c4c4" stroke-width="1.0"/>
<line x1="121.70" y1="622.00" x2="121.70" y2="641.00" stroke="#c4c4c4" stroke-width="1.0"/>
<line x1="104.00" y1="637.80" x2="127.00" y2="637.80" stroke="#c4c4c4" stroke-width="1.0"/>
<path d="M112.60,637.80 L108.75,639.00 Q107.10,639.00 107.10,637.80 Q107.10,636.60 108.75,636.60 Z" fill="#222"/>
<path d="M122.50,637.80 L126.35,636.60 Q128.00,636.60 128.00,637.80 Q128.00,639.00 126.35,639.00 Z" fill="#222"/>
<text class="t30" x="114.61" y="648.57" font-size="10.80" textLength="5.90" lengthAdjust="spacingAndGlyphs" fill="#333">8</text>
<line x1="142.40" y1="628.00" x2="142.40" y2="641.00" stroke="#c4c4c4" stroke-width="1.0"/>
<line x1="163.70" y1="628.00" x2="163.70" y2="641.00" stroke="#c4c4c4" stroke-width="1.0"/>
<line x1="142.40" y1="637.80" x2="163.70" y2="637.80" stroke="#c4c4c4" stroke-width="1.0"/>
<path d="M143.20,637.80 L147.05,636.60 Q148.70,636.60 148.70,637.80 Q148.70,639.00 147.05,639.00 Z" fill="#222"/>
<path d="M162.90,637.80 L159.05,639.00 Q157.40,639.00 157.40,637.80 Q157.40,636.60 159.05,636.60 Z" fill="#222"/>
<text class="t31" x="142.65" y="648.51" font-size="11.67" textLength="18.48" lengthAdjust="spacingAndGlyphs" fill="#333">G1/2</text>
</svg>
</body></html>
